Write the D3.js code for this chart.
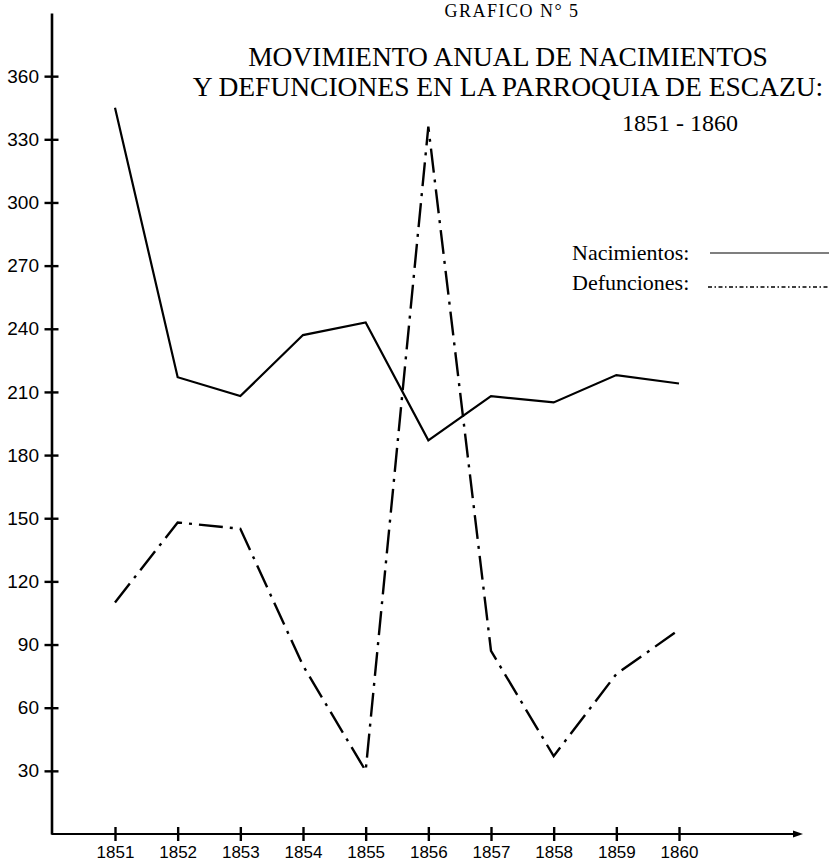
<!DOCTYPE html>
<html>
<head>
<meta charset="utf-8">
<script src="https://cdn.jsdelivr.net/npm/d3@7"></script>
<style>
  html, body { margin: 0; padding: 0; background: #fff; }
  svg { display: block; }
</style>
</head>
<body>
<script>
// ---- data ----
const years = [1851, 1852, 1853, 1854, 1855, 1856, 1857, 1858, 1859, 1860];
const nacimientos = [345, 217, 208, 237, 243, 187, 208, 205, 218, 214];
const defunciones = [110, 148, 145, 80, 30, 336, 87, 37, 76, 97];
const yTicks = [30, 60, 90, 120, 150, 180, 210, 240, 270, 300, 330, 360];
const titleLines = ["MOVIMIENTO ANUAL DE NACIMIENTOS", "Y DEFUNCIONES EN LA PARROQUIA DE ESCAZU:"];
const subtitle = "1851 - 1860";
const topLabel = "GRAFICO N° 5";
const legendLabels = ["Nacimientos:", "Defunciones:"];

const W = 829, H = 862;
const svg = d3.select("body").append("svg").attr("width", W).attr("height", H);

const axisX = 51.5;
const x = d3.scaleLinear().domain([1851, 1860]).range([115, 679]);
const y = d3.scaleLinear().domain([0, 390]).range([834, 13]);

const serif = "'Liberation Serif', 'DejaVu Serif', serif";
const sans = "'Liberation Sans', Arial, sans-serif";

// ---- y axis ----
const gy = svg.append("g").attr("transform", `translate(${axisX},0)`)
  .call(d3.axisLeft(y).tickValues(yTicks).tickSize(7).tickSizeOuter(0).tickPadding(5.5));
gy.select(".domain").attr("stroke", "#000").attr("stroke-width", 2.6);
gy.selectAll(".tick line").attr("x1", -7).attr("x2", 7).attr("stroke", "#000").attr("stroke-width", 2.4);
gy.selectAll(".tick text").attr("font-family", sans).attr("font-size", 19).attr("fill", "#000");

// ---- x axis ----
const baseY = y(0);
const gx = svg.append("g").attr("transform", `translate(0,${baseY})`)
  .call(d3.axisBottom(x).tickValues(years).tickFormat(d3.format("d")).tickSize(7).tickPadding(4.5));
gx.select(".domain").remove();
gx.selectAll(".tick line").attr("y1", -7).attr("y2", 7).attr("stroke", "#000").attr("stroke-width", 2.4);
gx.selectAll(".tick text").attr("font-family", sans).attr("font-size", 17).attr("fill", "#000");
const arrowEnd = 803;
svg.append("line").attr("x1", axisX).attr("x2", arrowEnd - 6).attr("y1", baseY).attr("y2", baseY)
  .attr("stroke", "#000").attr("stroke-width", 2.2);
svg.append("path")
  .attr("d", `M${arrowEnd},${baseY} L${arrowEnd - 10},${baseY - 3.5} L${arrowEnd - 10},${baseY + 3.5} Z`)
  .attr("fill", "#000");

// ---- lines ----
const line = d3.line().x((d, i) => x(years[i])).y(d => y(d));
svg.append("path").datum(nacimientos).attr("d", line)
  .attr("fill", "none").attr("stroke", "#000").attr("stroke-width", 2.2).attr("stroke-linejoin", "miter");
svg.append("path").datum(defunciones).attr("d", line)
  .attr("fill", "none").attr("stroke", "#000").attr("stroke-width", 2.4)
  .attr("stroke-dasharray", "24,7,3,7");

// ---- titles ----
svg.append("text").attr("x", 512).attr("y", 17).attr("text-anchor", "middle")
  .attr("font-family", serif).attr("font-size", 18).attr("letter-spacing", 1.5).text(topLabel);
titleLines.forEach((t, i) => {
  svg.append("text").attr("x", 508).attr("y", 66 + i * 30).attr("text-anchor", "middle")
    .attr("font-family", serif).attr("font-size", 27.5).attr("fill", "#000").text(t);
});
svg.append("text").attr("x", 680).attr("y", 131).attr("text-anchor", "middle")
  .attr("font-family", serif).attr("font-size", 24).attr("fill", "#000").text(subtitle);

// ---- legend ----
const legY = [260, 290];
legendLabels.forEach((t, i) => {
  svg.append("text").attr("x", 572).attr("y", legY[i])
    .attr("font-family", serif).attr("font-size", 22).attr("fill", "#000").text(t);
});
svg.append("line").attr("x1", 710).attr("x2", 829).attr("y1", 253).attr("y2", 253)
  .attr("stroke", "#000").attr("stroke-width", 1.2);
svg.append("line").attr("x1", 708).attr("x2", 829).attr("y1", 287).attr("y2", 287)
  .attr("stroke", "#000").attr("stroke-width", 1.3).attr("stroke-dasharray", "4,2.5,1.5,2.5");
</script>
</body>
</html>
